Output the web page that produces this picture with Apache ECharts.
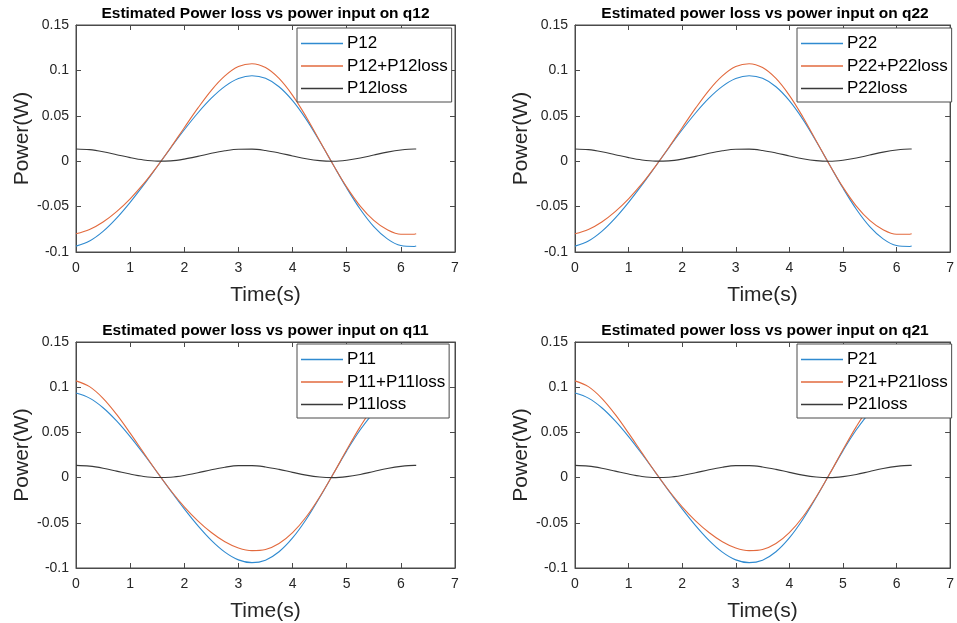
<!DOCTYPE html>
<html>
<head>
<meta charset="utf-8">
<script src="https://cdn.jsdelivr.net/npm/echarts@6/dist/echarts.min.js"></script>
<style>
html,body{margin:0;padding:0;background:#fff;}
#chart{width:957px;height:623px;}
</style>
</head>
<body>
<div id="chart"></div>
<script>
// Time samples (s)
const time = [0,0.25,0.5,0.75,1,1.25,1.5,1.75,2,2.25,2.5,2.75,3,3.25,3.5,3.75,4,4.25,4.5,4.75,5,5.25,5.5,5.75,6,6.25,6.2832];

// q12
const p12      = [-0.0935,-0.0879,-0.0773,-0.0627,-0.0453,-0.0261,-0.0058,0.0147,0.0346,0.0531,0.0694,0.0824,0.0910,0.0941,0.0913,0.0820,0.0667,0.0463,0.0220,-0.0039,-0.0296,-0.0529,-0.0720,-0.0855,-0.0929,-0.0939,-0.0935];
const p12Total = [-0.0800,-0.0752,-0.0669,-0.0555,-0.0414,-0.0248,-0.0057,0.0151,0.0369,0.0584,0.0781,0.0939,0.1042,0.1074,0.1031,0.0911,0.0725,0.0490,0.0226,-0.0039,-0.0285,-0.0494,-0.0652,-0.0755,-0.0805,-0.0804,-0.0800];
const p12Loss  = [0.0135,0.0127,0.0104,0.0072,0.0039,0.0013,0.0001,0.0004,0.0023,0.0053,0.0087,0.0115,0.0132,0.0133,0.0118,0.0091,0.0058,0.0027,0.0006,0.0000,0.0011,0.0035,0.0068,0.0100,0.0124,0.0135,0.0135];

// q22
const p22      = [-0.0935,-0.0879,-0.0773,-0.0627,-0.0453,-0.0261,-0.0058,0.0147,0.0346,0.0531,0.0694,0.0824,0.0910,0.0941,0.0913,0.0820,0.0667,0.0463,0.0220,-0.0039,-0.0296,-0.0529,-0.0720,-0.0855,-0.0929,-0.0939,-0.0935];
const p22Total = [-0.0800,-0.0752,-0.0669,-0.0555,-0.0414,-0.0248,-0.0057,0.0151,0.0369,0.0584,0.0781,0.0939,0.1042,0.1074,0.1031,0.0911,0.0725,0.0490,0.0226,-0.0039,-0.0285,-0.0494,-0.0652,-0.0755,-0.0805,-0.0804,-0.0800];
const p22Loss  = [0.0135,0.0127,0.0104,0.0072,0.0039,0.0013,0.0001,0.0004,0.0023,0.0053,0.0087,0.0115,0.0132,0.0133,0.0118,0.0091,0.0058,0.0027,0.0006,0.0000,0.0011,0.0035,0.0068,0.0100,0.0124,0.0135,0.0135];

// q11
const p11      = [0.0935,0.0879,0.0773,0.0627,0.0453,0.0261,0.0058,-0.0147,-0.0346,-0.0531,-0.0694,-0.0824,-0.0910,-0.0941,-0.0913,-0.0820,-0.0667,-0.0463,-0.0220,0.0039,0.0296,0.0529,0.0720,0.0855,0.0929,0.0939,0.0935];
const p11Total = [0.1070,0.1006,0.0877,0.0699,0.0492,0.0274,0.0059,-0.0143,-0.0323,-0.0478,-0.0607,-0.0709,-0.0778,-0.0808,-0.0795,-0.0729,-0.0609,-0.0436,-0.0214,0.0039,0.0307,0.0564,0.0788,0.0955,0.1053,0.1074,0.1070];
const p11Loss  = [0.0135,0.0127,0.0104,0.0072,0.0039,0.0013,0.0001,0.0004,0.0023,0.0053,0.0087,0.0115,0.0132,0.0133,0.0118,0.0091,0.0058,0.0027,0.0006,0.0000,0.0011,0.0035,0.0068,0.0100,0.0124,0.0135,0.0135];

// q21
const p21      = [0.0935,0.0879,0.0773,0.0627,0.0453,0.0261,0.0058,-0.0147,-0.0346,-0.0531,-0.0694,-0.0824,-0.0910,-0.0941,-0.0913,-0.0820,-0.0667,-0.0463,-0.0220,0.0039,0.0296,0.0529,0.0720,0.0855,0.0929,0.0939,0.0935];
const p21Total = [0.1070,0.1006,0.0877,0.0699,0.0492,0.0274,0.0059,-0.0143,-0.0323,-0.0478,-0.0607,-0.0709,-0.0778,-0.0808,-0.0795,-0.0729,-0.0609,-0.0436,-0.0214,0.0039,0.0307,0.0564,0.0788,0.0955,0.1053,0.1074,0.1070];
const p21Loss  = [0.0135,0.0127,0.0104,0.0072,0.0039,0.0013,0.0001,0.0004,0.0023,0.0053,0.0087,0.0115,0.0132,0.0133,0.0118,0.0091,0.0058,0.0027,0.0006,0.0000,0.0011,0.0035,0.0068,0.0100,0.0124,0.0135,0.0135];

const xTicks = {min: 0, max: 7, interval: 1};
const yTicks = {min: -0.1, max: 0.15, interval: 0.05};

const titles = [
  'Estimated Power loss vs power input on q12',
  'Estimated power loss vs power input on q22',
  'Estimated power loss vs power input on q11',
  'Estimated power loss vs power input on q21'
];
const names = [
  ['P12','P12+P12loss','P12loss'],
  ['P22','P22+P22loss','P22loss'],
  ['P11','P11+P11loss','P11loss'],
  ['P21','P21+P21loss','P21loss']
];
const seriesData = [
  [p12, p12Total, p12Loss],
  [p22, p22Total, p22Loss],
  [p11, p11Total, p11Loss],
  [p21, p21Total, p21Loss]
];
const colors = ['#2f8ad0', '#e26a3e', '#3a3a3a'];

// Layout (pixels)
const grids = [
  {left: 76, top: 25, width: 379, height: 227},
  {left: 575, top: 25, width: 380, height: 227},
  {left: 76, top: 342, width: 379, height: 226},
  {left: 575, top: 342, width: 380, height: 226}
];
const legendPos = [
  {left: 297, top: 28},
  {left: 797, top: 28},
  {left: 297, top: 344},
  {left: 797, top: 344}
];

const FONT = '"Liberation Sans", Arial, Helvetica, sans-serif';
const AX = '#4a4a4a';

const option = {
  animation: false,
  backgroundColor: '#fff',
  title: [], grid: [], xAxis: [], yAxis: [], legend: [], series: []
};

grids.forEach((g, i) => {
  option.grid.push(Object.assign({show: true, borderColor: AX, borderWidth: 1, backgroundColor: '#fff'}, g));
  option.title.push({
    text: titles[i],
    left: g.left + g.width / 2,
    textAlign: 'center',
    top: g.top - 19,
    padding: 0,
    textStyle: {fontFamily: FONT, fontWeight: 'bold', fontSize: 15.5, color: '#000'}
  });
  option.xAxis.push({
    type: 'value', gridIndex: i, position: 'bottom',
    min: xTicks.min, max: xTicks.max, interval: xTicks.interval,
    name: 'Time(s)', nameLocation: 'middle', nameGap: 33,
    nameTextStyle: {fontFamily: FONT, fontSize: 21, color: '#262626'},
    axisLine: {show: true, onZero: false, lineStyle: {color: AX}},
    axisTick: {show: true, inside: true, length: 5, lineStyle: {color: AX}},
    axisLabel: {fontFamily: FONT, fontSize: 14, color: '#262626', margin: 9},
    splitLine: {show: false}
  });
  option.xAxis.push({
    type: 'value', gridIndex: i, position: 'top',
    min: xTicks.min, max: xTicks.max, interval: xTicks.interval,
    axisLine: {show: true, onZero: false, lineStyle: {color: AX}},
    axisTick: {show: true, inside: true, length: 5, lineStyle: {color: AX}},
    axisLabel: {show: false}, splitLine: {show: false}
  });
  option.yAxis.push({
    type: 'value', gridIndex: i, position: 'left',
    min: yTicks.min, max: yTicks.max, interval: yTicks.interval,
    name: 'Power(W)', nameLocation: 'middle', nameGap: 42,
    nameTextStyle: {fontFamily: FONT, fontSize: 21, color: '#262626'},
    axisLine: {show: true, onZero: false, lineStyle: {color: AX}},
    axisTick: {show: true, inside: true, length: 5, lineStyle: {color: AX}},
    axisLabel: {fontFamily: FONT, fontSize: 14, color: '#262626', margin: 7},
    splitLine: {show: false}
  });
  option.yAxis.push({
    type: 'value', gridIndex: i, position: 'right',
    min: yTicks.min, max: yTicks.max, interval: yTicks.interval,
    axisLine: {show: true, onZero: false, lineStyle: {color: AX}},
    axisTick: {show: true, inside: true, length: 5, lineStyle: {color: AX}},
    axisLabel: {show: false}, splitLine: {show: false}
  });
  option.legend.push({
    data: names[i],
    orient: 'vertical',
    left: legendPos[i].left, top: legendPos[i].top,
    backgroundColor: '#fff', borderColor: AX, borderWidth: 1, borderRadius: 0,
    padding: [7, 4, 5, 4], itemGap: 5.5,
    itemWidth: 42, itemHeight: 1.5, icon: 'rect',
    selectedMode: false,
    textStyle: {fontFamily: FONT, fontSize: 17, color: '#000', padding: [0, 0, 0, -1]}
  });
  names[i].forEach((n, k) => {
    option.series.push({
      name: n, type: 'line',
      xAxisIndex: i * 2, yAxisIndex: i * 2,
      data: time.map((t, j) => [t, seriesData[i][k][j]]),
      showSymbol: false, smooth: 0.35,
      color: colors[k],
      lineStyle: {width: 1.1, color: colors[k]},
      z: 2 + k
    });
  });
});

const chart = echarts.init(document.getElementById('chart'), null, {renderer: 'canvas'});
chart.setOption(option);
</script>
</body>
</html>
